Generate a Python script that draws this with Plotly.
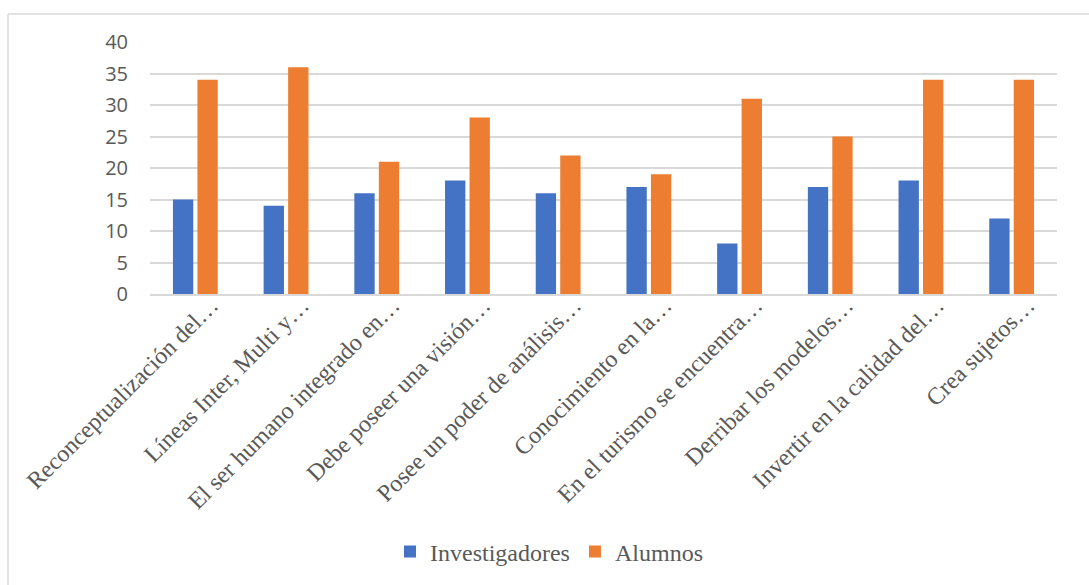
import plotly.graph_objects as go

categories = [
    "Reconceptualización del…",
    "Líneas Inter, Multi y…",
    "El ser humano integrado en…",
    "Debe poseer una visión…",
    "Posee un poder de análisis…",
    "Conocimiento en la…",
    "En el turismo se encuentra…",
    "Derribar los modelos…",
    "Invertir en la calidad del…",
    "Crea sujetos…",
]
investigadores = [15, 14, 16, 18, 16, 17, 8, 17, 18, 12]
alumnos = [34, 36, 21, 28, 22, 19, 31, 25, 34, 34]
y_ticks = [0, 5, 10, 15, 20, 25, 30, 35, 40]

W, H = 1089, 585
L, R, T, B = 150, 32, 42, 291
pw, ph = W - L - R, H - T - B

def px_x(x):
    return (x - L) / pw

def px_y(y):
    return (H - B - y) / ph

fig = go.Figure()
fig.add_trace(go.Bar(name="Investigadores", x=categories, y=investigadores,
                     marker=dict(color="#4472C4", line=dict(width=0))))
fig.add_trace(go.Bar(name="Alumnos", x=categories, y=alumnos,
                     marker=dict(color="#ED7D31", line=dict(width=0))))

fig.update_layout(
    width=W, height=H,
    margin=dict(l=L, r=R, t=T, b=B, pad=0, autoexpand=False),
    paper_bgcolor="white", plot_bgcolor="white",
    barmode="group", bargap=0.46, bargroupgap=0.17,
    showlegend=True,
    legend=dict(orientation="h", x=px_x(549), xanchor="center",
                y=px_y(552), yanchor="middle",
                font=dict(family="Liberation Serif", size=24, color="#595959"),
                itemwidth=30, traceorder="normal"),
    xaxis=dict(tickangle=-45, showgrid=False, showline=True, linecolor="#d9d9d9",
               linewidth=1.5, ticks="", automargin=False, ticklabelstandoff=-14,
               ticklabelshift=16,
               tickfont=dict(family="Liberation Serif", size=24, color="#595959")),
    yaxis=dict(range=[0, 40], tickvals=y_ticks, showgrid=True, gridcolor="#d9d9d9",
               gridwidth=1.5, zeroline=False, showline=False, ticks="",
               ticklabelstandoff=21, automargin=False,
               tickfont=dict(family="Open Sans", size=20, color="#595959")),
    shapes=[
        dict(type="line", xref="paper", yref="paper", x0=px_x(8), x1=px_x(1100),
             y0=px_y(14), y1=px_y(14), line=dict(color="#d9d9d9", width=1.5)),
        dict(type="line", xref="paper", yref="paper", x0=px_x(8), x1=px_x(8),
             y0=px_y(14), y1=px_y(600), line=dict(color="#d9d9d9", width=1.5)),
    ],
)

fig.write_html("out.html")
